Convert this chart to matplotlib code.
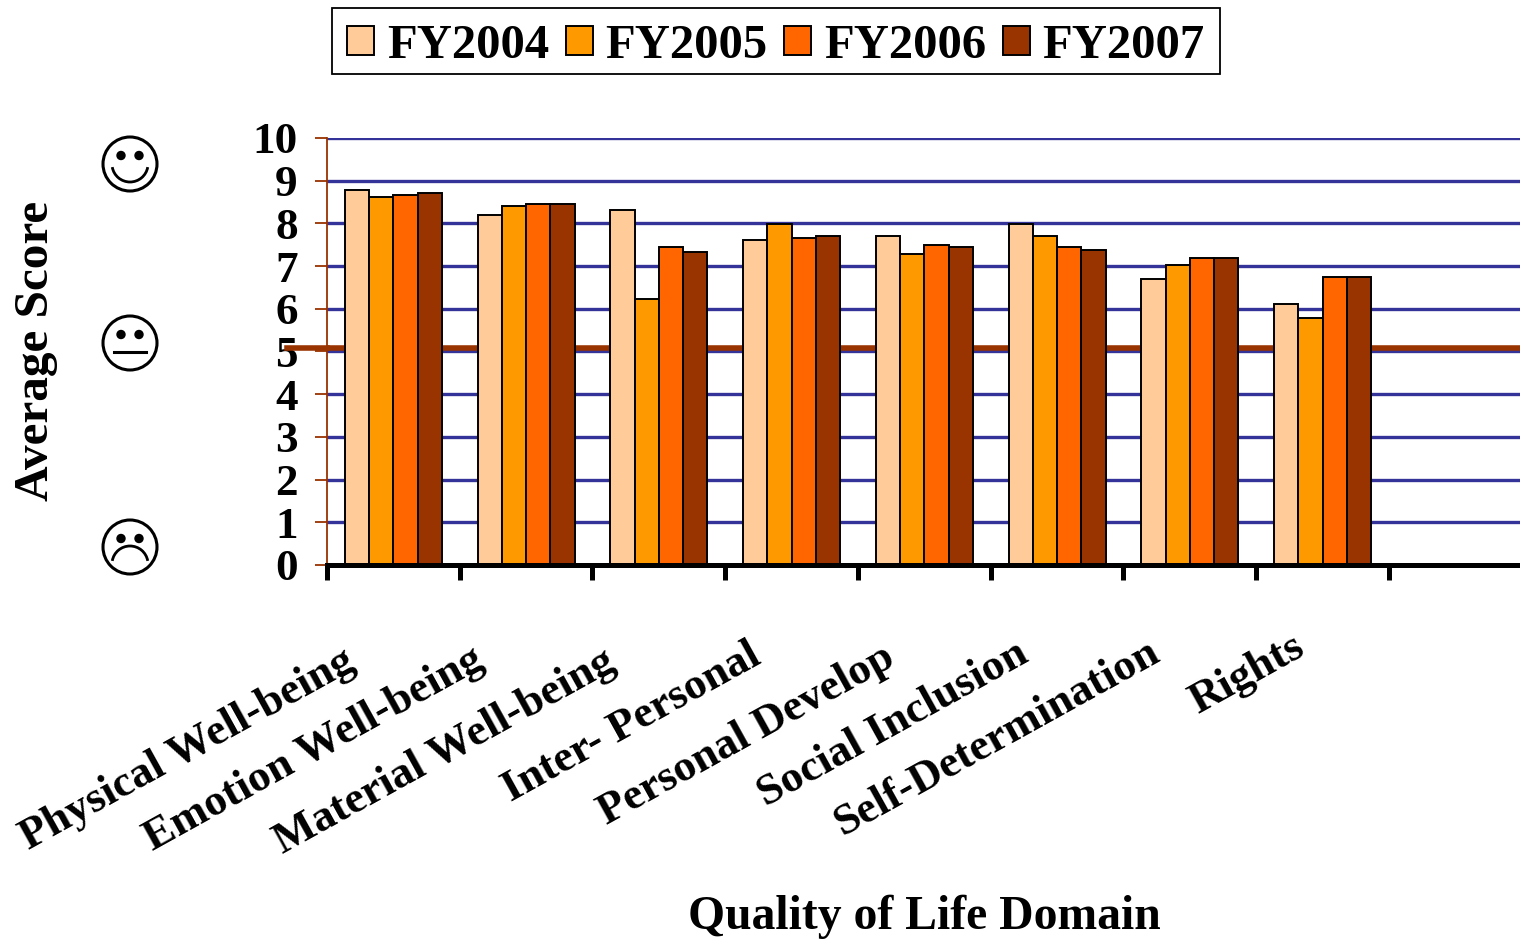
import numpy as np
import matplotlib
matplotlib.use('Agg')
import matplotlib.pyplot as plt
from matplotlib.patches import Circle, Arc, Rectangle
from matplotlib.transforms import ScaledTranslation

plt.rcParams['font.family'] = ['Liberation Serif', 'DejaVu Serif']
plt.rcParams['font.weight'] = 'bold'

# Valores
dominios = ['Physical Well-being', 'Emotion Well-being', 'Material Well-being', 'Inter- Personal',
            'Personal Develop', 'Social Inclusion', 'Self-Determination', 'Rights']
fy2004 = [8.78, 8.20, 8.31, 7.61, 7.70, 7.99, 6.70, 6.11]
fy2005 = [8.62, 8.41, 6.23, 7.99, 7.28, 7.70, 7.03, 5.78]
fy2006 = [8.66, 8.45, 7.45, 7.66, 7.49, 7.45, 7.19, 6.74]
fy2007 = [8.71, 8.45, 7.33, 7.70, 7.45, 7.38, 7.19, 6.74]
anios = ['FY2004', 'FY2005', 'FY2006', 'FY2007']
colores = ['#FFCC99', '#FF9900', '#FF6600', '#993300']
linea_ref = 5.08

# ajuste en pixeles de cada etiqueta inclinada
etiqueta_dx = [-51, -55, -56, -44, -42, -42, -43, -31]
etiqueta_dy = [76, 74, 76, 70, 72, 68, 67, 62]

W, H = 1520, 939
fig = plt.figure(figsize=(W / 100, H / 100), dpi=100)
ax = fig.add_axes([327 / W, 1 - 565 / H, (W - 327) / W, (565 - 138) / H])

x = np.arange(len(dominios)) + 0.5
ancho = 0.183
for j, (serie, nombre) in enumerate(zip([fy2004, fy2005, fy2006, fy2007], anios)):
    ax.bar(x + (j - 1.5) * ancho, serie, ancho, color=colores[j], edgecolor='black',
           linewidth=1.4, label=nombre, zorder=3)

ax.set_xlim(0, 8.987)
ax.set_ylim(0, 10)
ax.set_yticks(range(11))
ax.yaxis.grid(True, color='#333399', linewidth=2.4, zorder=1)
ax.set_axisbelow(True)
ax.axhline(linea_ref, color='#993300', linewidth=4, zorder=2)
# la linea marron sobresale a la izquierda del eje
ax.plot([-0.3, 0], [linea_ref, linea_ref], color='#993300', linewidth=4, clip_on=False, zorder=2)

for s in ['top', 'right']:
    ax.spines[s].set_visible(False)
ax.spines['left'].set_color('#993300')
ax.spines['left'].set_linewidth(1.3)
ax.spines['bottom'].set_linewidth(3.6)
ax.spines['bottom'].set_zorder(5)
ax.tick_params(axis='y', color='#993300', width=1.3, length=9, labelsize=32.5, pad=12)

ax.set_xticks(np.arange(9))
ax.set_xticklabels([''] * 9)
ax.tick_params(axis='x', color='black', width=3.6, length=11)

# etiquetas inclinadas
for xi, nombre, dx, dy in zip(x, dominios, etiqueta_dx, etiqueta_dy):
    corre = ScaledTranslation(dx / 100, -dy / 100, fig.dpi_scale_trans)
    ax.text(xi, 0, nombre, rotation=29, ha='right', va='top', rotation_mode='anchor',
            fontsize=32.2, fontweight='bold', transform=ax.get_xaxis_transform() + corre)

fig.text(924 / W, 1 - 917 / H, 'Quality of Life Domain', ha='center', va='center', fontsize=34.3, fontweight='bold')
fig.text(36 / W, 1 - 351 / H, 'Average Score', rotation=90, ha='center', va='center', fontsize=35.5, fontweight='bold')

# caritas y marco de la leyenda en coordenadas de pixel
capa = fig.add_axes([0, 0, 1, 1], facecolor='none')
capa.set_xlim(0, W)
capa.set_ylim(H, 0)
capa.axis('off')
capa.add_patch(Rectangle((332, 8), 888, 66, fill=False, edgecolor='black', linewidth=1.3))
for cy, tipo in [(164, 'feliz'), (343, 'neutra'), (547, 'triste')]:
    cx = 130
    capa.add_patch(Circle((cx, cy), 27, fill=False, edgecolor='black', linewidth=2.2))
    capa.add_patch(Circle((cx - 9, cy - 8.5), 4, color='black'))
    capa.add_patch(Circle((cx + 9, cy - 8.5), 4, color='black'))
    if tipo == 'feliz':
        capa.add_patch(Arc((cx, cy), 36, 36, theta1=10, theta2=170, edgecolor='black', linewidth=2))
    elif tipo == 'neutra':
        capa.plot([cx - 16, cx + 16], [cy + 9, cy + 9], color='black', linewidth=2.2)
    else:
        capa.add_patch(Arc((cx, cy + 17), 36, 36, theta1=190, theta2=350, edgecolor='black', linewidth=2))

manijas, textos = ax.get_legend_handles_labels()
fig.legend(manijas, textos, loc='center', bbox_to_anchor=(776 / W, 1 - 46 / H), ncol=4, fontsize=35, frameon=False,
           handlelength=0.55, handleheight=0.55, handletextpad=0.26, columnspacing=0.35,
           borderpad=0, borderaxespad=0)

fig.savefig('out.png', dpi=100)
